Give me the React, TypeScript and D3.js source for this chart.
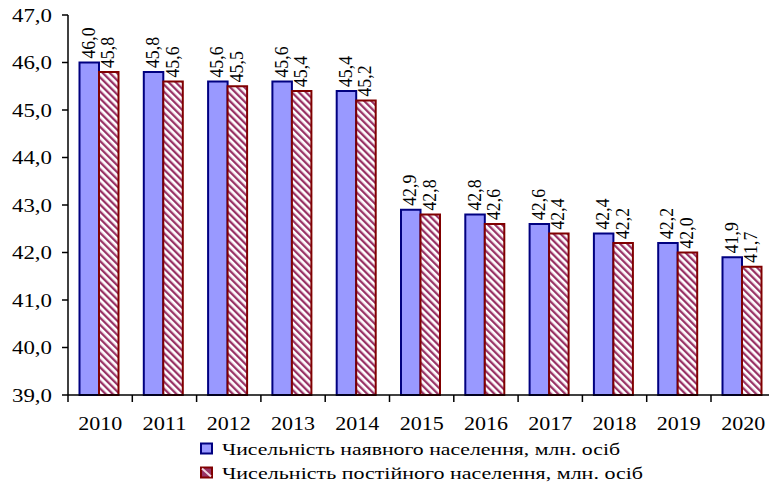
import React from "react";
import * as d3 from "d3";

const years = ["2010", "2011", "2012", "2013", "2014", "2015", "2016", "2017", "2018", "2019", "2020"];
const presentPop = [46.0, 45.8, 45.6, 45.6, 45.4, 42.9, 42.8, 42.6, 42.4, 42.2, 41.9];
const residentPop = [45.8, 45.6, 45.5, 45.4, 45.2, 42.8, 42.6, 42.4, 42.2, 42.0, 41.7];
const yTicks = [39, 40, 41, 42, 43, 44, 45, 46, 47];
const seriesNames = [
  "Чисельність наявного населення, млн. осіб",
  "Чисельність постійного населення, млн. осіб",
];

const fmt = (v: number) => v.toFixed(1).replace(".", ",");

export default function App() {
  const W = 769, H = 487;
  const x0 = 68;
  const step = 64.3;
  const x = d3.scaleBand<string>().domain(years).range([x0, x0 + step * years.length]).padding(0);
  const y = d3.scaleLinear().domain([39, 47]).range([395, 15]);
  const barW = 19.5;
  const groupOff = 11.5;
  const font = "'Liberation Serif', 'DejaVu Serif', serif";

  return (
    <svg width={W} height={H} style={{ position: "absolute", left: 0, top: 0 }} fontFamily={font}>
      <defs>
        <pattern id="stripes" patternUnits="userSpaceOnUse" width="5" height="5" patternTransform="rotate(-45)">
          <rect x="0" y="0" width="5" height="5" fill="#ffffff" />
          <rect x="0" y="0" width="2.3" height="5" fill="#993366" />
        </pattern>
      </defs>
      <rect x={0} y={0} width={W} height={H} fill="#ffffff" />
      {/* bars */}
      {years.map((yr, i) => {
        const bx = (x(yr) as number) + groupOff;
        const v1 = presentPop[i];
        const v2 = residentPop[i];
        return (
          <g key={yr}>
            <rect x={bx} y={y(v1)} width={barW} height={y(39) - y(v1)} fill="#9999ff" stroke="#000080" strokeWidth={2} />
            <rect x={bx + barW} y={y(v2)} width={barW} height={y(39) - y(v2)} fill="url(#stripes)" stroke="#800000" strokeWidth={2} />
            <text transform={`translate(${bx + barW / 2 + 5.5},${y(v1) - 4}) rotate(-90)`} fontSize={18} textLength={31} lengthAdjust="spacingAndGlyphs" fill="#000">{fmt(v1)}</text>
            <text transform={`translate(${bx + barW * 1.5 + 5.5},${y(v2) - 4}) rotate(-90)`} fontSize={18} textLength={31} lengthAdjust="spacingAndGlyphs" fill="#000">{fmt(v2)}</text>
          </g>
        );
      })}
      {/* y axis */}
      <line x1={x0} x2={x0} y1={y(47)} y2={y(39)} stroke="#000" strokeWidth={1.5} />
      {yTicks.map((t) => (
        <g key={t}>
          <line x1={x0 - 6} x2={x0} y1={y(t)} y2={y(t)} stroke="#000" strokeWidth={1.5} />
          <text x={52} y={y(t) + 6.5} textAnchor="end" fontSize={18} textLength={40} lengthAdjust="spacingAndGlyphs" fill="#000">{fmt(t)}</text>
        </g>
      ))}
      {/* x axis */}
      <line x1={x0} x2={W} y1={y(39)} y2={y(39)} stroke="#000" strokeWidth={1.5} />
      {years.map((yr) => (
        <g key={yr}>
          <line x1={x(yr) as number} x2={x(yr) as number} y1={y(39)} y2={y(39) + 7} stroke="#000" strokeWidth={1.5} />
          <text x={(x(yr) as number) + x.bandwidth() / 2} y={430} textAnchor="middle" fontSize={19} textLength={44} lengthAdjust="spacingAndGlyphs" fill="#000">{yr}</text>
        </g>
      ))}
      {/* legend */}
      <rect x={201} y={443.5} width={11} height={10} fill="#9999ff" stroke="#000080" strokeWidth={2} />
      <text x={222} y={455} fontSize={17} textLength={398} lengthAdjust="spacingAndGlyphs" fill="#000">{seriesNames[0]}</text>
      <rect x={201} y={467.5} width={11} height={10} fill="#993366" stroke="#800000" strokeWidth={2} />
      <line x1={202} y1={468.5} x2={211} y2={476.5} stroke="#f0d8e0" strokeWidth={2} />
      <text x={222} y={479} fontSize={17} textLength={421} lengthAdjust="spacingAndGlyphs" fill="#000">{seriesNames[1]}</text>
    </svg>
  );
}
